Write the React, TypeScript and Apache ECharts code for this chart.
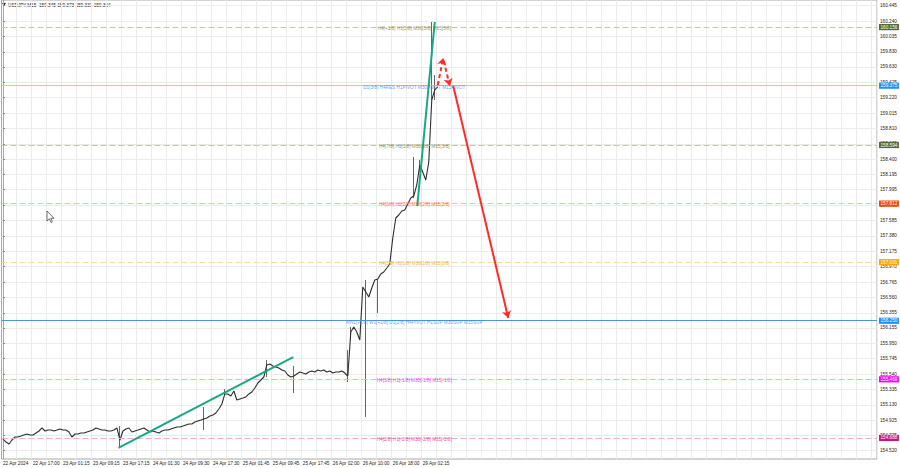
import React, { useEffect, useRef } from "react";
import * as echarts from "echarts";

const HEADER_TEXT = "USDJPY,M15  159.345 159.373 159.331 159.364";

const TIME_LABELS = [
  "22 Apr 2024", "22 Apr 17:00", "23 Apr 01:15", "23 Apr 09:15", "23 Apr 17:15",
  "24 Apr 01:30", "24 Apr 09:30", "24 Apr 17:30", "25 Apr 01:45", "25 Apr 09:45",
  "25 Apr 17:45", "26 Apr 02:00", "26 Apr 10:00", "26 Apr 18:00", "29 Apr 02:15",
];

const Y_TICKS = [
  160.445, 160.24, 160.035, 159.83, 159.63, 159.425, 159.22, 159.015, 158.81, 158.605,
  158.4, 158.195, 157.995, 157.79, 157.585, 157.38, 157.175, 156.97, 156.765, 156.56,
  156.355, 156.155, 155.95, 155.745, 155.54, 155.335, 155.13, 154.925, 154.725, 154.52,
];

// closing prices, one per slot
const CLOSES = [
  154.675, 154.635, 154.609, 154.662, 154.702, 154.702, 154.715, 154.729, 154.742, 154.729,
  154.729, 154.755, 154.782, 154.822, 154.782, 154.795, 154.795, 154.782, 154.795, 154.809,
  154.795, 154.795, 154.769, 154.702, 154.742, 154.742, 154.755, 154.755, 154.769, 154.782,
  154.795, 154.822, 154.809, 154.795, 154.795, 154.782, 154.782, 154.795, 154.822, 154.662,
  154.782, 154.809, 154.822, 154.769, 154.782, 154.795, 154.809, 154.822, 154.795, 154.769,
  154.782, 154.769, 154.755, 154.782, 154.795, 154.795, 154.809, 154.822, 154.835, 154.835,
  154.848, 154.862, 154.875, 154.875, 154.902, 154.915, 154.928, 154.942, 154.955, 154.982,
  154.995, 155.022, 155.075, 155.141, 155.275, 155.275, 155.248, 155.315, 155.195, 155.208,
  155.221, 155.235, 155.275, 155.301, 155.355, 155.421, 155.461, 155.501, 155.661, 155.674,
  155.647, 155.634, 155.621, 155.594, 155.581, 155.528, 155.501, 155.514, 155.541, 155.568,
  155.554, 155.541, 155.568, 155.581, 155.568, 155.594, 155.581, 155.594, 155.568, 155.581,
  155.554, 155.568, 155.568, 155.581, 155.554, 155.514, 156.1, 156.167, 156.1, 155.994,
  156.699, 156.633, 156.566, 156.686, 156.793, 156.806, 156.872, 156.899, 156.952, 157.006,
  157.352, 157.618, 157.658, 157.711, 157.725, 157.805, 157.884, 157.911, 158.058, 158.324,
  158.231, 158.124, 158.364, 159.189, 159.323, 159.364,
];

// notable wicks: [slot, low, high]
const WICKS = [
  [39, 154.556, 154.848],
  [67, 154.795, 155.102],
  [74, 155.248, 155.341],
  [88, 155.5, 155.727],
  [97, 155.288, 155.647],
  [115, 155.434, 155.86],
  [116, 155.994, 156.167],
  [121, 154.968, 156.793],
  [125, 156.353, 156.806],
  [137, 157.884, 158.43],
  [139, 158.231, 158.391],
  [143, 159.189, 160.228],
  [144, 159.189, 159.522],
];

const LEVEL_PRICES = [160.156, 159.375, 158.594, 157.812, 157.031, 156.25, 155.469, 154.688];
const LEVEL_TEXTS = [
  "H4[+1/8] H1[5/8] M30[5/8] M15[5/8]",
  "D1[3/8] H4RES H1PIVOT M30PIVOT M15PIVOT",
  "H4[7/8] H1[3/8] M30[3/8] M15[3/8]",
  "H4[6/8] H1[2/8] M30[2/8] M15[2/8]",
  "H4[5/8] H1[1/8] M30[1/8] M15[1/8]",
  "MN1[+1/8] W1[+1/8] D1[2/8] H4PIVOT H1SUP M30SUP M15SUP",
  "H4[3/8] H1[-1/8] M30[-1/8] M15[-1/8]",
  "H4[2/8] H1[-2/8] M30[-2/8] M15[-2/8]",
];

// annotation lines in (slot, price) space
const TRENDLINES = [
  [[38.5, 154.556], [96.83, 155.767]],
  [[138.17, 157.778], [144.0, 160.228]],
];
const DASHED_ARROWS = [
  [[145.0, 159.39], [146.83, 159.749]],
  [[147.0, 159.709], [149.0, 159.38]],
];
const SOLID_ARROWS = [[[150.17, 159.376], [168.5, 156.287]]];

const LEVEL_STYLES = [
  { line: "#c9c5a6", type: "dashed", text: "#7a7a3a", box: "#556b2f" },
  { line: "#a9cff5", type: "solid", text: "#2f8ee8", box: "#1e90ff" },
  { line: "#c9c5a6", type: "dashed", text: "#7a7a3a", box: "#556b2f" },
  { line: "#f9bca6", type: "dashed", text: "#ff4a12", box: "#ff4500" },
  { line: "#fcd9a3", type: "dashed", text: "#f09a1a", box: "#ffa500" },
  { line: "#4f95de", type: "solid", text: "#2f8ee8", box: "#1e90ff" },
  { line: "#f7a6f7", type: "dashed", text: "#f000f0", box: "#ff00ff" },
  { line: "#f0a8d6", type: "dashed", text: "#e0209a", box: "#c71585" },
];

const SLOTS = 292;
const Y_MIN = 154.409;
const Y_MAX = 160.521;
const LABEL_SLOT = 137.17;
const FONT = "Liberation Sans";
const FS = 4.7;

export default function App() {
  const ref = useRef<HTMLDivElement>(null);
  useEffect(() => {
    if (!ref.current) return;
    const chart = echarts.init(ref.current, null, { renderer: "svg" });
    const cats = Array.from({ length: SLOTS }, (_, i) => String(i));
    const wickData = CLOSES.map((c) => [c, c, c, c]);
    WICKS.forEach(([s, lo, hi]) => {
      const c = CLOSES[s];
      wickData[s] = [c, c, lo, hi];
    });

    const lineMark = (segs: number[][][], color: string, type: any, arrow: boolean) =>
      segs.map(([a, b]) => [
        { coord: a, symbol: "none", lineStyle: { color, width: 2, type } },
        { coord: b, symbol: arrow ? "arrow" : "none", symbolSize: 7 },
      ]);

    const option: any = {
      animation: false,
      backgroundColor: "#ffffff",
      grid: {
        left: 1,
        right: 23,
        top: 0,
        bottom: 9,
        show: true,
        borderColor: "#a8a8a8",
        borderWidth: 1,
      },
      xAxis: [
        {
          type: "category",
          data: cats,
          boundaryGap: true,
          axisLine: { show: false },
          axisTick: { show: false },
          axisLabel: {
            interval: (i: number) => i % 10 === 0 && i / 10 < TIME_LABELS.length,
            formatter: (_v: string, i: number) => TIME_LABELS[i / 10] || "",
            align: "left",
            fontSize: FS,
            fontFamily: FONT,
            color: "#222",
            margin: 2,
          },
          splitLine: {
            show: true,
            interval: (i: number) => i % 5 === 0 && i > 0,
            lineStyle: { color: "#ebebeb", width: 1 },
          },
        },
        {
          type: "value",
          min: -0.5,
          max: SLOTS - 0.5,
          show: false,
          splitLine: { show: false },
        },
      ],
      yAxis: {
        type: "value",
        position: "right",
        min: Y_MIN,
        max: Y_MAX,
        axisLine: { show: true, lineStyle: { color: "#a8a8a8" } },
        axisTick: { show: true, length: 2, customValues: Y_TICKS, lineStyle: { color: "#888" } },
        axisLabel: {
          customValues: Y_TICKS,
          formatter: (v: number) => v.toFixed(3),
          fontSize: FS,
          fontFamily: FONT,
          color: "#222",
          margin: 3,
        },
        splitLine: { show: true, lineStyle: { color: "#ebebeb", width: 1 } },
      },
      graphic: [
        {
          type: "polygon",
          shape: { points: [[2, 3], [6, 3], [4, 6]] },
          style: { fill: "#222" },
        },
        {
          type: "text",
          left: 8,
          top: 2.5,
          style: { text: HEADER_TEXT, fontSize: FS, fontFamily: FONT, fill: "#222" },
        },
        {
          type: "polygon",
          shape: {
            points: [[47, 211], [47, 221], [49.4, 218.8], [51, 222.4], [52.4, 221.8], [50.8, 218.3], [54, 218.3]],
          },
          style: { fill: "#ffffff", stroke: "#333", lineWidth: 0.7 },
          z: 100,
        },
      ],
      series: [
        {
          type: "line",
          name: "close",
          data: CLOSES,
          showSymbol: false,
          lineStyle: { color: "#2e2e2e", width: 1.1 },
          z: 3,
          markLine: {
            silent: true,
            symbol: "none",
            data: LEVEL_PRICES.map((p, i) => ({
              yAxis: p,
              lineStyle: {
                color: LEVEL_STYLES[i].line,
                type: LEVEL_STYLES[i].type === "dashed" ? [6, 3] : "solid",
                width: 1,
              },
              label: {
                show: true,
                position: "end",
                distance: 2,
                formatter: p.toFixed(3),
                backgroundColor: LEVEL_STYLES[i].box,
                color: "#ffffff",
                fontSize: FS,
                fontFamily: FONT,
                padding: [0.8, 1.5, 0.4, 1.5],
              },
            })),
          },
        },
        {
          type: "candlestick",
          name: "wicks",
          data: wickData,
          barWidth: 1,
          itemStyle: {
            color: "#555",
            color0: "#555",
            borderColor: "#666",
            borderColor0: "#666",
            borderWidth: 1,
          },
          z: 2,
        },
        {
          type: "scatter",
          name: "levelText",
          xAxisIndex: 1,
          symbolSize: 0,
          silent: true,
          z: 5,
          data: LEVEL_PRICES.map((p, i) => ({
            value: [LABEL_SLOT, p],
            label: {
              show: true,
              formatter: LEVEL_TEXTS[i],
              color: LEVEL_STYLES[i].text,
            },
          })),
          label: {
            show: true,
            position: "inside",
            offset: [0, 1.5],
            fontSize: FS,
            fontFamily: FONT,
          },
        },
        {
          type: "line",
          name: "annotations",
          xAxisIndex: 1,
          data: [],
          z: 6,
          markLine: {
            silent: true,
            label: { show: false },
            data: [
              ...lineMark(TRENDLINES, "#18a884", "solid", false),
              ...lineMark(DASHED_ARROWS, "#ff2a2a", [4, 3], true),
              ...lineMark(SOLID_ARROWS, "#ff2a2a", "solid", true),
            ],
          },
        },
      ],
    };
    chart.setOption(option);
    return () => chart.dispose();
  }, []);
  return <div ref={ref} style={{ width: 900, height: 468, position: "absolute", left: 0, top: 0 }} />;
}
